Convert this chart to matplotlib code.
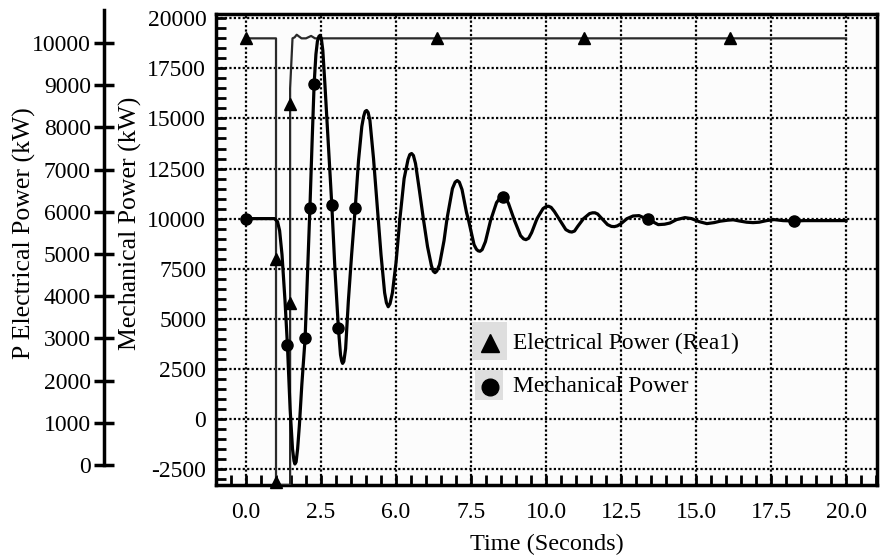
import numpy as np
import matplotlib
matplotlib.use('Agg')
import matplotlib.pyplot as plt
from matplotlib.patches import Rectangle
from matplotlib.ticker import MultipleLocator

plt.rcParams['font.family'] = 'Liberation Serif'
plt.rcParams['font.size'] = 17
plt.rcParams['axes.unicode_minus'] = False

# axis ticks
x_ticks = [0, 2.5, 5, 7.5, 10, 12.5, 15, 17.5, 20]
x_tick_labels = ['0.0', '2.5', '6.0', '7.5', '10.0', '12.5', '15.0', '17.5', '20.0']
y_ticks = [-2500, 0, 2500, 5000, 7500, 10000, 12500, 15000, 17500, 20000]
p_ticks = [0, 1000, 2000, 3000, 4000, 5000, 6000, 7000, 8000, 9000, 10000]

# electrical power (real), kW
elec_t = [0, 1.0, 1.0, 1.47, 1.47, 1.55, 1.62, 1.69, 1.76, 1.85, 2.0, 2.17, 2.3, 20.0]
elec_p = [19000, 19000, -3300, -3300, 16500, 19000, 19050, 19180, 19100, 19000,
          19000, 19120, 19000, 19000]
elec_mark_t = [0, 1.0, 1.0, 1.47, 1.47, 6.37, 11.27, 16.13]
elec_mark_p = [19000, 8000, -3150, 5780, 15730, 19000, 19000, 19000]

# mechanical power, kW
mech_t = [0, 0.95, 1.05, 1.12, 1.2, 1.3, 1.38, 1.47, 1.55, 1.6, 1.63, 1.67, 1.72,
          1.78, 1.86, 1.97, 2.05, 2.13, 2.2, 2.27, 2.33, 2.38, 2.43, 2.47, 2.51,
          2.56, 2.63, 2.74, 2.86, 2.97, 3.08, 3.15, 3.19, 3.22, 3.26, 3.32, 3.41,
          3.52, 3.64, 3.75, 3.86, 3.92, 3.97, 4.02, 4.07, 4.13, 4.25, 4.36, 4.5,
          4.62, 4.68, 4.74, 4.8, 4.88, 5.0, 5.13, 5.27, 5.4, 5.46, 5.52, 5.58,
          5.65, 5.78, 5.91, 6.05, 6.18, 6.24, 6.3, 6.36, 6.45, 6.6, 6.7, 6.88,
          6.97, 7.04, 7.11, 7.2, 7.35, 7.42, 7.6, 7.68, 7.74, 7.8, 7.87, 7.98,
          8.15, 8.35, 8.45, 8.56, 8.66, 8.75, 8.95, 9.15, 9.25, 9.33, 9.42, 9.52,
          9.7, 9.9, 10.0, 10.08, 10.17, 10.28, 10.47, 10.66, 10.78, 10.86, 10.95,
          11.05, 11.25, 11.45, 11.55, 11.63, 11.72, 11.83, 12.05, 12.18, 12.28,
          12.38, 12.5, 12.7, 12.9, 13.1, 13.25, 13.41, 13.55, 13.74, 13.95, 14.13,
          14.35, 14.63, 14.85, 15.1, 15.36, 15.6, 15.8, 16.05, 16.24, 16.45,
          16.69, 16.9, 17.1, 17.35, 17.6, 17.9, 18.28, 18.6, 19.0, 19.5, 20.0]
mech_p = [10000, 10000, 9850, 9400, 8200, 5900, 3700, 500, -1500, -2100, -2250,
          -2150, -1500, -300, 1700, 4020, 7200, 10520, 13700, 16700, 18200,
          18850, 19100, 19150, 19000, 18400, 16700, 13800, 10670, 7300, 4520,
          3200, 2880, 2770, 2870, 3500, 5860, 8200, 10520, 12900, 14600, 15100,
          15350, 15400, 15300, 14900, 13000, 10900, 8200, 6300, 5800, 5600, 5750,
          6300, 7800, 10000, 12000, 12950, 13200, 13250, 13150, 12750, 11400,
          10000, 8600, 7650, 7380, 7300, 7380, 7700, 8900, 10000, 11500, 11820,
          11900, 11820, 11450, 10300, 9900, 8700, 8470, 8390, 8370, 8450, 8850,
          9900, 10800, 11000, 11100, 11020, 10750, 9900, 9150, 8990, 8950, 9020,
          9300, 10000, 10500, 10600, 10620, 10560, 10350, 9900, 9450, 9350, 9330,
          9380, 9600, 10000, 10250, 10290, 10290, 10230, 10050, 9700, 9610, 9600,
          9640, 9750, 10000, 10130, 10150, 10050, 10000, 9850, 9700, 9720, 9780,
          9950, 10050, 10000, 9850, 9750, 9800, 9870, 9920, 9940, 9880, 9820, 9800,
          9820, 9900, 9950, 9900, 9880, 9900, 9900, 9900, 9900]
mech_mark_t = [0, 1.38, 1.97, 2.13, 2.27, 2.86, 3.08, 3.64, 8.56, 13.41, 18.28]
mech_mark_p = [10000, 3700, 4020, 10520, 16700, 10670, 4520, 10520, 11100, 10000, 9880]

fig = plt.figure(figsize=(8.82, 5.58), dpi=100)

# main plot
ax = fig.add_axes([0.2449, 0.1308, 0.7494, 0.8441])
ax.set_facecolor('#fcfcfc')
ax.set_xlim(-1.0, 21.03)
ax.set_ylim(-3300, 20215)
ax.set_xticks(x_ticks)
ax.set_xticklabels(x_tick_labels)
ax.set_yticks(y_ticks)
ax.xaxis.set_minor_locator(MultipleLocator(0.5))
ax.yaxis.set_minor_locator(MultipleLocator(500))
ax.grid(True, which='major', color='black', linestyle=(0, (1, 1)), linewidth=1.6)
ax.set_axisbelow(True)
ax.tick_params(which='both', direction='in', length=7, width=2, color='black')
ax.tick_params(axis='x', pad=12)
ax.tick_params(axis='y', pad=7)
for s in ax.spines.values():
    s.set_linewidth(2.5)
    s.set_color('black')

ax.plot(elec_t, elec_p, color='#2a2a2a', lw=1.6, zorder=3)
ax.plot(elec_mark_t, elec_mark_p, '^', color='black', ms=8, clip_on=False, zorder=4)
ax.plot(mech_t, mech_p, color='black', lw=2.3, zorder=3, solid_joinstyle='round')
ax.plot(mech_mark_t, mech_mark_p, 'o', color='black', ms=8, zorder=4)

ax.set_xlabel('Time (Seconds)', labelpad=8, fontsize=17.5)

# legend drawn by hand
ax.add_patch(Rectangle((0.3873, 0.2654), 0.053, 0.0807, transform=ax.transAxes,
                       facecolor='#dedede', edgecolor='none', zorder=5))
ax.add_patch(Rectangle((0.3918, 0.1805), 0.0424, 0.0637, transform=ax.transAxes,
                       facecolor='#dedede', edgecolor='none', zorder=5))
ax.plot([0.4145], [0.3015], '^', color='black', ms=13, transform=ax.transAxes, zorder=6)
ax.plot([0.4145], [0.2081], 'o', color='black', ms=12, transform=ax.transAxes, zorder=6)
ax.text(0.4493, 0.3015, 'Electrical Power (Rea1)', transform=ax.transAxes,
        va='center', ha='left', zorder=6, fontsize=16.9)
ax.text(0.4493, 0.2081, 'Mechanical Power', transform=ax.transAxes,
        va='center', ha='left', zorder=6, fontsize=16.9)

# second scale for electrical power
ax2 = fig.add_axes([104 / 882, 1 - 465 / 558, 0.0001, 455 / 558])
ax2.patch.set_visible(False)
ax2.set_ylim(0, 10782)
ax2.set_yticks(p_ticks)
ax2.set_xticks([])
for name in ['top', 'right', 'bottom']:
    ax2.spines[name].set_visible(False)
ax2.spines['left'].set_linewidth(2.5)
ax2.tick_params(axis='y', direction='inout', length=15, width=2.5, pad=2)

fig.text(24 / 882, 1 - 233 / 558, 'P Electrical Power (kW)', rotation=90,
         ha='center', va='center', fontsize=18.5)
fig.text(130 / 882, 1 - 223 / 558, 'Mechanical Power (kW)', rotation=90,
         ha='center', va='center', fontsize=18.5)

fig.savefig('out.png', dpi=100)
